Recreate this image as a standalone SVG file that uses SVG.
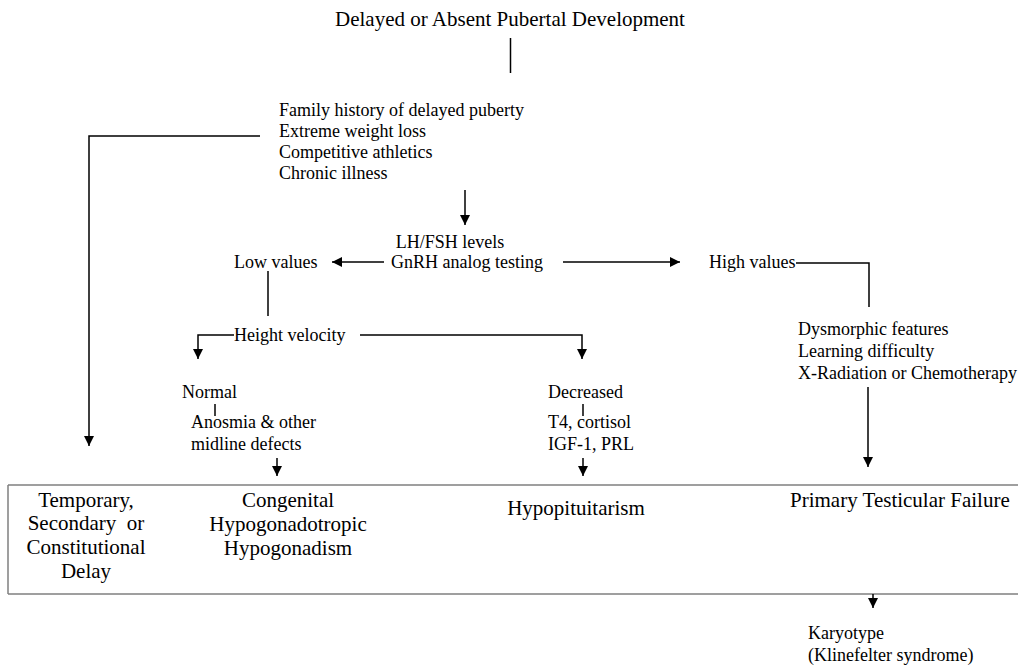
<svg xmlns="http://www.w3.org/2000/svg" width="1018" height="666" viewBox="0 0 1018 666">
<style>
text{font-family:"Liberation Serif","Times New Roman",serif;fill:#000}
.t{font-size:18px}
.b{font-size:21px}
.c{text-anchor:middle}
.ln{fill:none;stroke:#000;stroke-width:1.5}
.bx{fill:none;stroke:#808080;stroke-width:1.5}
</style>
<defs>
<marker id="ah" viewBox="0 0 10 10" refX="10" refY="5" markerWidth="11" markerHeight="10" markerUnits="userSpaceOnUse" orient="auto">
<path d="M0,0 L10,5 L0,10 z" fill="#000"/>
</marker>
</defs>
<rect width="1018" height="666" fill="#fff"/>
<g id="outcome-box">
<path class="bx" d="M8,485 H1018 M8,594 H1018 M8,485 V594"/>
</g>
<g id="connectors">
<path class="ln" d="M510.5,38 V73"/>
<path class="ln" d="M260,136 H89 V446" marker-end="url(#ah)"/>
<path class="ln" d="M465,190 V225" marker-end="url(#ah)"/>
<path class="ln" d="M384,262 H332" marker-end="url(#ah)"/>
<path class="ln" d="M563,262 H680" marker-end="url(#ah)"/>
<path class="ln" d="M796,263 H869 V307"/>
<path class="ln" d="M868,387 V467" marker-end="url(#ah)"/>
<path class="ln" d="M268,271 V316"/>
<path class="ln" d="M234,335 H198 V359" marker-end="url(#ah)"/>
<path class="ln" d="M360,335 H582 V359" marker-end="url(#ah)"/>
<path class="ln" d="M215,404 V416"/>
<path class="ln" d="M277,458 V476" marker-end="url(#ah)"/>
<path class="ln" d="M583,404 V416"/>
<path class="ln" d="M583,458 V476" marker-end="url(#ah)"/>
<path class="ln" d="M873,594 V608" marker-end="url(#ah)"/>
</g>
<g id="title"><text class="b c" x="510" y="26">Delayed or Absent Pubertal Development</text></g>
<g id="history">
<text class="t" x="279" y="116">Family history of delayed puberty</text>
<text class="t" x="279" y="137">Extreme weight loss</text>
<text class="t" x="279" y="158">Competitive athletics</text>
<text class="t" x="279" y="179">Chronic illness</text>
</g>
<g id="lhfsh">
<text class="t c" x="450" y="248">LH/FSH levels</text>
<text class="t c" x="467" y="268">GnRH analog testing</text>
</g>
<g id="low-values"><text class="t" x="234" y="268">Low values</text></g>
<g id="high-values"><text class="t" x="709" y="268">High values</text></g>
<g id="dysmorphic">
<text class="t" x="798" y="335">Dysmorphic features</text>
<text class="t" x="798" y="357">Learning difficulty</text>
<text class="t" x="798" y="379">X-Radiation or Chemotherapy</text>
</g>
<g id="height-velocity"><text class="t" x="234" y="341">Height velocity</text></g>
<g id="normal"><text class="t" x="182" y="398">Normal</text></g>
<g id="anosmia">
<text class="t" x="191" y="428">Anosmia &amp; other</text>
<text class="t" x="191" y="450">midline defects</text>
</g>
<g id="decreased"><text class="t" x="548" y="398">Decreased</text></g>
<g id="hormones">
<text class="t" x="548" y="428">T4, cortisol</text>
<text class="t" x="548" y="450">IGF-1, PRL</text>
</g>
<g id="constitutional">
<text class="b c" x="86" y="507">Temporary,</text>
<text class="b c" x="86" y="530" style="white-space:pre">Secondary  or</text>
<text class="b c" x="86" y="554">Constitutional</text>
<text class="b c" x="86" y="578">Delay</text>
</g>
<g id="congenital">
<text class="b c" x="288" y="507">Congenital</text>
<text class="b c" x="288" y="531">Hypogonadotropic</text>
<text class="b c" x="288" y="555">Hypogonadism</text>
</g>
<g id="hypopituitarism"><text class="b c" x="576" y="515">Hypopituitarism</text></g>
<g id="testicular"><text class="b" x="790" y="507">Primary Testicular Failure</text></g>
<g id="karyotype">
<text class="t" x="808" y="639">Karyotype</text>
<text class="t" x="808" y="661">(Klinefelter syndrome)</text>
</g>
</svg>
